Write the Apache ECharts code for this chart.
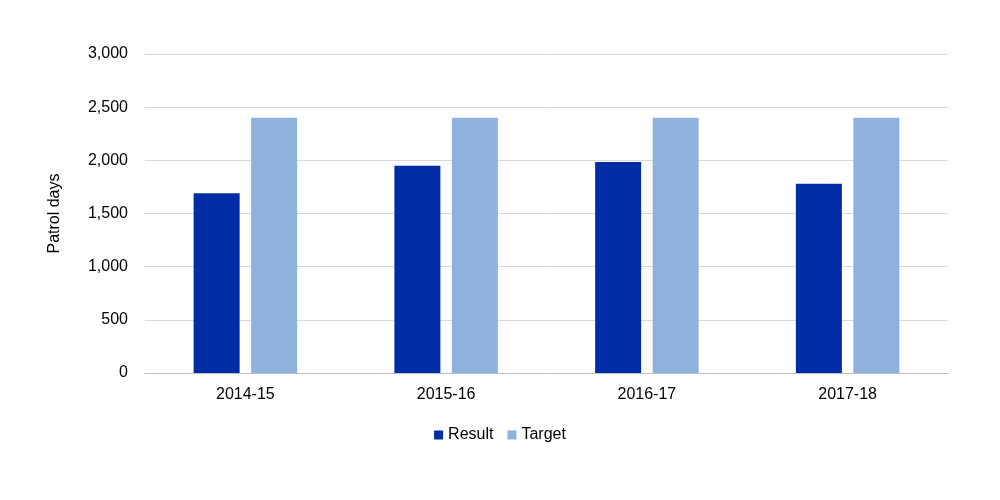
<!DOCTYPE html>
<html><head><meta charset="utf-8">
<script src="https://cdn.jsdelivr.net/npm/echarts@6/dist/echarts.min.js"></script>
<style>body{margin:0}#c{width:1000px;height:500px}</style></head>
<body><div id="c"></div>
<script>
const categories=['2014-15','2015-16','2016-17','2017-18'];
const resultValues=[1690,1950,1985,1780];
const targetValues=[2400,2400,2400,2400];
const ch=echarts.init(document.getElementById('c'));
ch.setOption({
 animation:false,
 textStyle:{fontFamily:'Liberation Sans, Arial, sans-serif'},
 grid:{left:145,right:52,top:54,bottom:127},
 legend:{bottom:52,left:'center',itemWidth:9,itemHeight:9,itemGap:14,icon:'rect',
   textStyle:{fontSize:16,color:'#000'},data:['Result','Target']},
 xAxis:{type:'category',data:categories,axisTick:{show:false},
   axisLine:{lineStyle:{color:'#bfbfbf'}},axisLabel:{fontSize:16,color:'#000',margin:14}},
 yAxis:{type:'value',min:0,max:3000,interval:500,name:'Patrol days',nameLocation:'middle',
   nameGap:82,nameTextStyle:{fontSize:16,color:'#000'},
   axisLabel:{fontSize:16,color:'#000',margin:17},splitLine:{lineStyle:{color:'#d9d9d9'}}},
 series:[
  {name:'Result',type:'bar',data:resultValues,barWidth:46,barGap:'25%',itemStyle:{color:'#002da6'}},
  {name:'Target',type:'bar',data:targetValues,barWidth:46,itemStyle:{color:'#8fb2dc'}}
 ]
});
</script></body></html>
